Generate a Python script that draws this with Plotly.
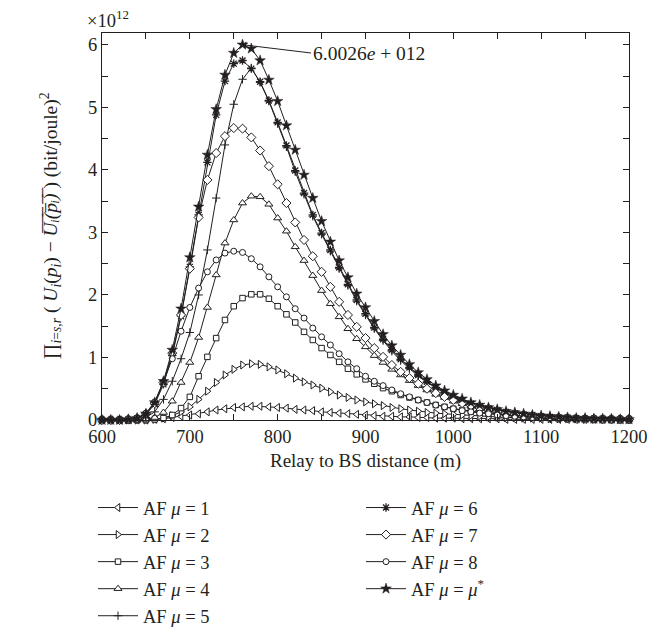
import plotly.graph_objects as go

distance = list(range(600, 1201, 10))

af_mu1 = [0, 0, 0, 0, 0, 0, 0.01, 0.02, 0.04, 0.06, 0.08, 0.10, 0.13, 0.16, 0.18, 0.20, 0.21, 0.22, 0.22, 0.21,
          0.20, 0.19, 0.17, 0.16, 0.15, 0.13, 0.12, 0.11, 0.10, 0.09, 0.08, 0.07, 0.06, 0.06, 0.05, 0.05, 0.04, 0.04, 0.03, 0.03,
          0.03, 0.02, 0.02, 0.02, 0.02, 0.02, 0.01, 0.01, 0.01, 0.01, 0.01, 0.01, 0.01, 0.01, 0.01, 0.01, 0.01, 0.01, 0.01, 0.01, 0.01]
af_mu2 = [0, 0, 0, 0, 0, 0, 0.01, 0.03, 0.07, 0.13, 0.21, 0.33, 0.46, 0.60, 0.72, 0.81, 0.88, 0.90, 0.89, 0.85,
          0.80, 0.74, 0.67, 0.61, 0.56, 0.51, 0.45, 0.40, 0.36, 0.32, 0.29, 0.26, 0.23, 0.20, 0.18, 0.16, 0.14, 0.12, 0.11, 0.10,
          0.09, 0.08, 0.07, 0.06, 0.05, 0.05, 0.04, 0.04, 0.03, 0.03, 0.03, 0.02, 0.02, 0.02, 0.02, 0.01, 0.01, 0.01, 0.01, 0.01, 0.01]
af_mu3 = [0, 0, 0, 0, 0, 0, 0.01, 0.03, 0.08, 0.19, 0.37, 0.70, 1.01, 1.31, 1.60, 1.82, 1.95, 2.01, 2.01, 1.94,
          1.82, 1.69, 1.56, 1.41, 1.28, 1.15, 1.04, 0.93, 0.82, 0.73, 0.65, 0.58, 0.51, 0.46, 0.40, 0.36, 0.32, 0.28, 0.24, 0.21,
          0.18, 0.16, 0.14, 0.12, 0.10, 0.09, 0.08, 0.07, 0.06, 0.05, 0.04, 0.04, 0.03, 0.03, 0.02, 0.02, 0.02, 0.01, 0.01, 0.01, 0.01]
af_mu4 = [0, 0, 0, 0, 0, 0.01, 0.04, 0.12, 0.30, 0.60, 0.92, 1.32, 1.80, 2.32, 2.83, 3.20, 3.47, 3.58, 3.57, 3.45,
          3.23, 3.02, 2.77, 2.55, 2.31, 2.07, 1.86, 1.65, 1.46, 1.30, 1.17, 1.03, 0.92, 0.81, 0.72, 0.63, 0.55, 0.48, 0.41, 0.36,
          0.30, 0.26, 0.22, 0.18, 0.15, 0.12, 0.10, 0.08, 0.06, 0.05, 0.04, 0.03, 0.02, 0.02, 0.01, 0.01, 0.01, 0.01, 0.01, 0.01, 0.01]
af_mu5 = [0, 0, 0, 0, 0.01, 0.04, 0.13, 0.33, 0.62, 0.98, 1.40, 2.00, 2.72, 3.55, 4.40, 5.05, 5.45, 5.63, 5.40, 5.10,
          4.74, 4.37, 3.97, 3.61, 3.26, 2.97, 2.70, 2.42, 2.15, 1.90, 1.68, 1.46, 1.27, 1.10, 0.95, 0.82, 0.70, 0.60, 0.51, 0.43,
          0.36, 0.30, 0.25, 0.21, 0.18, 0.15, 0.12, 0.10, 0.09, 0.07, 0.06, 0.05, 0.04, 0.03, 0.03, 0.02, 0.02, 0.01, 0.01, 0.01, 0.01]
af_mu6 = [0, 0, 0, 0.01, 0.03, 0.09, 0.25, 0.57, 1.03, 1.66, 2.45, 3.28, 4.12, 4.88, 5.42, 5.70, 5.75, 5.62, 5.41, 5.11,
          4.76, 4.39, 3.99, 3.63, 3.28, 2.99, 2.72, 2.44, 2.17, 1.92, 1.70, 1.48, 1.29, 1.12, 0.97, 0.84, 0.72, 0.61, 0.52, 0.44,
          0.37, 0.31, 0.26, 0.22, 0.19, 0.16, 0.13, 0.11, 0.09, 0.08, 0.06, 0.05, 0.04, 0.04, 0.03, 0.02, 0.02, 0.02, 0.01, 0.01, 0.01]
af_mu7 = [0, 0, 0, 0.01, 0.03, 0.10, 0.27, 0.60, 1.07, 1.68, 2.42, 3.24, 3.84, 4.27, 4.54, 4.67, 4.66, 4.52, 4.31, 4.06,
          3.77, 3.47, 3.16, 2.88, 2.62, 2.37, 2.13, 1.89, 1.68, 1.49, 1.31, 1.15, 1.01, 0.88, 0.77, 0.67, 0.58, 0.50, 0.43, 0.37,
          0.32, 0.27, 0.23, 0.19, 0.16, 0.13, 0.11, 0.09, 0.08, 0.06, 0.05, 0.04, 0.04, 0.03, 0.02, 0.02, 0.02, 0.01, 0.01, 0.01, 0.01]
af_mu8 = [0, 0, 0, 0.01, 0.03, 0.11, 0.29, 0.61, 0.98, 1.42, 1.80, 2.11, 2.37, 2.56, 2.67, 2.70, 2.68, 2.58, 2.45, 2.29,
          2.13, 1.97, 1.78, 1.63, 1.47, 1.33, 1.20, 1.06, 0.93, 0.82, 0.70, 0.62, 0.55, 0.48, 0.42, 0.37, 0.32, 0.28, 0.24, 0.21,
          0.18, 0.15, 0.13, 0.11, 0.10, 0.08, 0.07, 0.06, 0.05, 0.04, 0.04, 0.03, 0.03, 0.02, 0.02, 0.02, 0.01, 0.01, 0.01, 0.01, 0.01]
af_mu_star = [0, 0, 0, 0.01, 0.03, 0.10, 0.28, 0.62, 1.12, 1.78, 2.60, 3.41, 4.24, 4.97, 5.52, 5.87, 6.0026, 5.94, 5.75, 5.44,
              5.10, 4.71, 4.32, 3.92, 3.55, 3.18, 2.85, 2.55, 2.28, 2.02, 1.80, 1.58, 1.37, 1.19, 1.04, 0.89, 0.76, 0.65, 0.55, 0.47,
              0.40, 0.34, 0.28, 0.24, 0.20, 0.17, 0.14, 0.12, 0.10, 0.08, 0.07, 0.06, 0.05, 0.04, 0.03, 0.03, 0.02, 0.02, 0.02, 0.01, 0.01]

series_names = ["AF <i>μ</i> = 1", "AF <i>μ</i> = 2", "AF <i>μ</i> = 3", "AF <i>μ</i> = 4", "AF <i>μ</i> = 5",
                "AF <i>μ</i> = 6", "AF <i>μ</i> = 7", "AF <i>μ</i> = 8", "AF <i>μ</i> = <i>μ</i><sup>*</sup>"]
series_values = [af_mu1, af_mu2, af_mu3, af_mu4, af_mu5, af_mu6, af_mu7, af_mu8, af_mu_star]

peak_x = 760
peak_y = 6.0026
peak_label = "6.0026<i>e</i> + 012"
x_title = "Relay to BS distance (m)"
y_title = ("∏<sub><i>i</i>=<i>s</i>,<i>r</i></sub> ( <i>U<sub>i</sub></i>(<i>p<sub>i</sub></i>) − "
           "<i>U̅ᵢ̅(̅p̅ᵢ̅)̅</i> ) (bit/joule)<sup>2</sup>")
scale_label = "×10<sup>12</sup>"

FONT = "Liberation Serif, DejaVu Serif, serif"
INK = "#231f20"
FS = 18.5
W, H = 664, 630
ML, MR, MT, MB = 94, 43, 25, 218
PW, PH = W - ML - MR, H - MT - MB

styles = [
    dict(symbol="triangle-left", size=7, color="white", line=dict(color=INK, width=1)),
    dict(symbol="triangle-right", size=7, color="white", line=dict(color=INK, width=1)),
    dict(symbol="square", size=5.5, color="white", line=dict(color=INK, width=1)),
    dict(symbol="triangle-up", size=7, color="white", line=dict(color=INK, width=1)),
    dict(symbol="cross-thin-open", size=6, color=INK, line=dict(color=INK, width=1)),
    dict(symbol="asterisk-open", size=7, color=INK, line=dict(color=INK, width=1.3)),
    dict(symbol="diamond", size=7, color="white", line=dict(color=INK, width=1)),
    dict(symbol="circle", size=6, color="white", line=dict(color=INK, width=1)),
    dict(symbol="star", size=8, color=INK, line=dict(color=INK, width=0.5)),
]

fig = go.Figure()
for i, (name, vals, st) in enumerate(zip(series_names, series_values, styles)):
    fig.add_trace(go.Scatter(
        x=distance, y=vals, name=name, mode="lines+markers",
        line=dict(color=INK, width=1), marker=st, cliponaxis=False,
        legend="legend" if i < 5 else "legend2",
    ))

fig.add_annotation(x=peak_x, y=peak_y, text=peak_label, showarrow=True,
                   axref="x", ayref="y", ax=838, ay=5.87, xanchor="left",
                   arrowhead=1, arrowsize=1.2, arrowwidth=1, arrowcolor=INK,
                   font=dict(family=FONT, size=19.5, color=INK))
fig.add_annotation(xref="paper", yref="paper", x=(123 - ML) / PW, y=(H - MB - 11) / PH,
                   xanchor="right", yanchor="middle",
                   text=scale_label, showarrow=False, font=dict(family=FONT, size=18.5, color=INK))
fig.add_annotation(xref="paper", yref="paper", x=(42 - ML) / PW, y=0.5, xanchor="center", yanchor="middle",
                   textangle=-90, text=y_title, showarrow=False, font=dict(family=FONT, size=19.5, color=INK))

axis_common = dict(showline=True, linecolor=INK, linewidth=1.2, mirror="ticks", ticks="inside",
                   ticklen=6, tickcolor=INK, tickwidth=1, showgrid=False, zeroline=False,
                   tickfont=dict(family=FONT, size=FS, color=INK))

legend_common = dict(xref="container", yref="container", xanchor="left", yanchor="top",
                     bgcolor="rgba(0,0,0,0)", font=dict(family=FONT, size=FS, color=INK),
                     tracegroupgap=0, itemwidth=40)

fig.update_layout(
    width=W, height=H, paper_bgcolor="white", plot_bgcolor="white",
    margin=dict(l=ML, r=MR, t=MT, b=MB, autoexpand=False),
    xaxis=dict(range=[600, 1200], dtick=100, tick0=600,
               minor=dict(dtick=50, ticks="inside", ticklen=6, tickcolor=INK),
               title=dict(text=x_title, font=dict(family=FONT, size=19, color=INK), standoff=7),
               **axis_common),
    yaxis=dict(range=[0, 6.19], dtick=1, tick0=0,
               minor=dict(dtick=0.5, ticks="inside", ticklen=6, tickcolor=INK),
               **axis_common),
    legend=dict(x=85 / W, y=1 - 481 / H, **legend_common),
    legend2=dict(x=353 / W, y=1 - 481 / H, **legend_common),
    showlegend=True,
)

fig.write_html("out.html")
